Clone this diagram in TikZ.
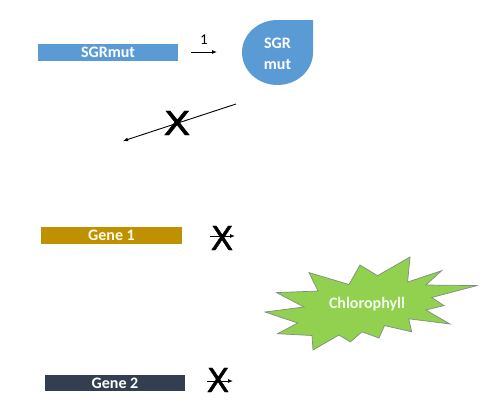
\documentclass[tikz,border=0pt]{standalone}
\usepackage{fontspec}
\setmainfont{Carlito}
\newfontfamily\crossfont[FakeBold=1.2]{DejaVu Sans}
\usetikzlibrary{arrows.meta}
\definecolor{sgrblue}{HTML}{5B9BD5}
\definecolor{genegold}{HTML}{BF9000}
\definecolor{geneslate}{HTML}{333F50}
\definecolor{leafgreen}{HTML}{92D050}
\definecolor{leafedge}{HTML}{7F8F7F}
\begin{document}
\begin{tikzpicture}[x=1pt,y=-1pt,
  bar/.style={minimum height=17pt, inner sep=0pt, text=white, font=\bfseries\fontsize{16}{17}\selectfont},
  arr/.style={-{Latex[length=5pt,width=4pt]}, line width=0.9pt},
  cross/.style={font=\crossfont\fontsize{33}{33}\selectfont, inner sep=0pt}]
\useasboundingbox (0,0) rectangle (500,415);
\fill[white] (0,0) rectangle (500,415);

% SGRmut gene bar
\node[bar, fill=sgrblue, minimum width=140pt] (sgr) at (108,52.5) {SGRmut};
\coordinate (a1s) at (191,52);
\coordinate (a1e) at (217,52);
\draw[arr] (a1s) -- node[above=4pt, font=\fontsize{15}{15}\selectfont] (one) {1} (a1e);

% SGR mut protein (teardrop)
\fill[sgrblue] (242,52.5) arc[start angle=180,end angle=270,x radius=35.5,y radius=32.5]
  -- (313,20) -- (313,52.5) arc[start angle=0,end angle=180,x radius=35.5,y radius=32.5] -- cycle;
\node[align=center, text=white, font=\bfseries\fontsize{16}{21}\selectfont] (sgrp) at (277.5,53.5) {SGR\\mut};

% crossed arrow back
\coordinate (b1s) at (236,104);
\coordinate (b1e) at (123,141);
\draw[arr] (b1s) -- (b1e);
\node[cross, xscale=1.2] (x1) at (177,123) {X};

% Gene 1
\node[bar, fill=genegold, minimum width=141pt, text=white!92!yellow] (g1) at (111.5,235.5) {Gene 1};
\coordinate (g1s) at (210,236);
\coordinate (g1e) at (235,236);
\draw[arr] (g1s) -- (g1e);
\node[cross] (x2) at (222,238) {X};

% Gene 2
\node[bar, fill=geneslate, minimum width=140pt, minimum height=16pt] (g2) at (115,383) {Gene 2};
\coordinate (g2s) at (207,381);
\coordinate (g2e) at (233,381);
\draw[arr] (g2s) -- (g2e);
\node[cross] (x3) at (218,380) {X};

% Chlorophyll explosion
\filldraw[fill=leafgreen, draw=leafedge, line width=0.7pt]
  (377.5,275.7) -- (410,257) -- (407.6,282) -- (441.7,270.7) -- (425.8,285)
  -- (477,285.6) -- (431.7,297.5) -- (444,305.6) -- (425.8,310) -- (450,324)
  -- (408.7,318.8) -- (411.7,331.8) -- (384.5,325.6) -- (379,338) -- (362,331.8)
  -- (350.4,341.9) -- (338.9,335) -- (313,350) -- (312,335.5) -- (277.6,333.7)
  -- (297.7,323) -- (265,312) -- (304,307) -- (276.5,292.6) -- (318,291)
  -- (309,272.6) -- (349,284.5) -- (360,265) -- cycle;
\node[text=white!90!leafgreen, font=\bfseries\fontsize{16}{17}\selectfont] (chl) at (367,304) {Chlorophyll};
\end{tikzpicture}
\end{document}
